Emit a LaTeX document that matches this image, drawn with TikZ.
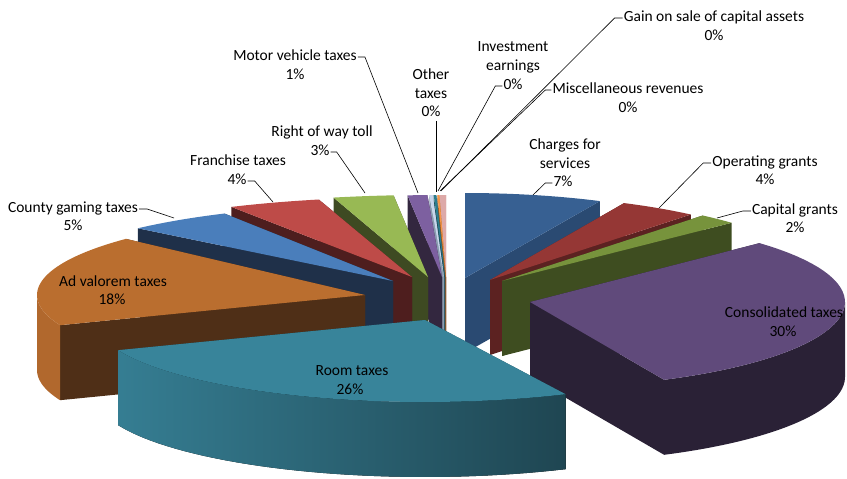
\documentclass[tikz,border=0pt]{standalone}
\usepackage{fontspec}
\setmainfont{Carlito}
\usepackage{tikz}

% slice colours
\definecolor{chgtop}{HTML}{376092}\definecolor{chgside}{HTML}{2A4A72}
\definecolor{optop}{HTML}{953735}\definecolor{opside}{HTML}{5C2221}
\definecolor{captop}{HTML}{77933C}\definecolor{capside}{HTML}{3E4D20}
\definecolor{contop}{HTML}{604A7B}\definecolor{conside}{HTML}{2A2136}
\definecolor{roomtop}{HTML}{38849A}\definecolor{roomside}{HTML}{1F4652}
\definecolor{advtop}{HTML}{BA6E2F}\definecolor{advside}{HTML}{4F2F17}
\definecolor{cnttop}{HTML}{4A7EBB}\definecolor{cntside}{HTML}{1F3049}
\definecolor{frtop}{HTML}{BE4B48}\definecolor{frside}{HTML}{4E1E1E}
\definecolor{rowtop}{HTML}{98B954}\definecolor{rowside}{HTML}{3E4A22}
\definecolor{mvtop}{HTML}{7D60A0}\definecolor{mvside}{HTML}{33273F}
\definecolor{othtop}{HTML}{C6D5EA}\definecolor{othside}{HTML}{8A9BB0}
\definecolor{invtop}{HTML}{2B7D8E}\definecolor{invside}{HTML}{1A4C57}
\definecolor{mistop}{HTML}{F79646}\definecolor{misside}{HTML}{9A5A24}
\definecolor{gaintop}{HTML}{DDA9A8}\definecolor{gainside}{HTML}{C49694}

\def\depth{75}
% outer wall of the current slice: from, to, style
\newcommand{\slicewall}[3]{%
  \fill[#3] plot[domain=#1:#2,samples=40] ({\slx+\slrx*cos(\x)},{\sly-\slry*sin(\x)})
    -- plot[domain=#2:#1,samples=40] ({\slx+\slrx*cos(\x)},{\sly+\depth-\slry*sin(\x)}) -- cycle;}
% apex x, apex y, rx, ry, from, to, top colour, cut colour, wall
\newcommand{\pieslice}[9]{%
  \def\slx{#1}\def\sly{#2}\def\slrx{#3}\def\slry{#4}%
  \fill[#8] (\slx,\sly) -- ({\slx+\slrx*cos(#5)},{\sly-\slry*sin(#5)}) -- ++(0,\depth) -- (\slx,\sly+\depth) -- cycle;
  \fill[#8] (\slx,\sly) -- ({\slx+\slrx*cos(#6)},{\sly-\slry*sin(#6)}) -- ++(0,\depth) -- (\slx,\sly+\depth) -- cycle;
  #9
  \fill[#7] (\slx,\sly) -- plot[domain=#5:#6,samples=40] ({\slx+\slrx*cos(\x)},{\sly-\slry*sin(\x)}) -- cycle;}

\tikzset{
  lbl/.style={font=\fontsize{15.5}{18.8}\selectfont, inner sep=1pt, align=center, text height=10.5pt, text depth=3pt},
  leader/.style={black, line width=0.6pt}
}

\begin{document}
\begin{tikzpicture}[x=1pt,y=-1pt]
\useasboundingbox (0,0) rectangle (847,479);

% slices, back to front
\pieslice{446}{277}{380}{82}{90}{91}{gaintop}{gainside}{}
\pieslice{446}{277}{380}{82}{91}{91.3}{mistop}{misside}{}
\pieslice{445}{277}{380}{82}{91.3}{91.7}{invtop}{invside}{}
\pieslice{444}{277}{380}{82}{91.7}{92.2}{othtop}{othside}{}
\pieslice{442}{277}{380}{82}{92.2}{95.2}{mvtop}{mvside}{}
\pieslice{428}{277}{380}{82}{95.2}{104.4}{rowtop}{rowside}{}
\pieslice{465}{278}{317}{85}{64.8}{90}{chgtop}{chgside}{}
\pieslice{412}{277}{375}{80}{104.4}{118.8}{frtop}{frside}{}
\pieslice{490}{280}{315}{85}{50.4}{64.8}{optop}{opside}{}
\pieslice{393}{281}{350}{77}{118.8}{136.8}{cnttop}{cntside}{}
\pieslice{502}{281}{315}{85}{43.2}{50.4}{captop}{capside}{}
\pieslice{365}{295}{328}{82}{136.8}{201.6}{advtop}{advside}{\slicewall{180}{201.6}{fill=advtop!95!black}}
\pieslice{530}{302}{315}{86}{-64.8}{43.2}{contop}{conside}{\slicewall{-64.8}{0}{fill=conside}}
\pieslice{425}{320}{330}{82}{-158.4}{-64.8}{roomtop}{roomside}{\slicewall{-158.4}{-64.8}{left color=roomtop!95!black, right color=roomside}}

% labels
\node[lbl] (gainname) at (714,18) {Gain on sale of capital assets};
\node[lbl] (gainpct) at (714,37) {0\%};
\node[lbl] (invname) at (513,67) {Investment\\earnings};
\node[lbl] (invpct) at (513,86) {0\%};
\node[lbl] (misname) at (628,90) {Miscellaneous revenues};
\node[lbl] (mispct) at (628,109) {0\%};
\node[lbl] (othname) at (431,95) {Other\\taxes};
\node[lbl] (othpct) at (431,113) {0\%};
\node[lbl] (mvname) at (295,57) {Motor vehicle taxes};
\node[lbl] (mvpct) at (295,76) {1\%};
\node[lbl] (rowname) at (322,133) {Right of way toll};
\node[lbl] (rowpct) at (320,152) {3\%};
\node[lbl] (frname) at (238,162) {Franchise taxes};
\node[lbl] (frpct) at (237,181) {4\%};
\node[lbl] (cntname) at (73,209) {County gaming taxes};
\node[lbl] (cntpct) at (73,227) {5\%};
\node[lbl] (chgname) at (565,165) {Charges for\\services};
\node[lbl] (chgpct) at (563,183) {7\%};
\node[lbl] (opname) at (765,163) {Operating grants};
\node[lbl] (oppct) at (765,181) {4\%};
\node[lbl] (capname) at (795,211) {Capital grants};
\node[lbl] (cappct) at (795,229) {2\%};
\node[lbl] (conname) at (784,314) {Consolidated taxes};
\node[lbl] (conpct) at (783,333) {30\%};
\node[lbl] (roomname) at (352,372) {Room taxes};
\node[lbl] (roompct) at (350,391) {26\%};
\node[lbl] (advname) at (113,283) {Ad valorem taxes};
\node[lbl] (advpct) at (112,301) {18\%};

% leader lines
\coordinate (gaintip) at (441,191);
\coordinate (invtip) at (438,191);
\coordinate (mistip) at (440,191);
\coordinate (othtip) at (436,192);
\coordinate (mvtip) at (418,193);
\coordinate (rowtip) at (365,193);
\coordinate (frtip) at (273,202);
\coordinate (cnttip) at (174,218);
\coordinate (chgtip) at (533,195);
\coordinate (optip) at (659,208);
\coordinate (captip) at (717,218);
\draw[leader] (gainname.west) -- ++(-8,0) -- (gaintip);
\draw[leader] (invpct.west) -- ++(-7,0) -- (invtip);
\draw[leader] (misname.west) -- ++(-6,0) -- (mistip);
\draw[leader] (othpct.south -| othtip) -- (othtip);
\draw[leader] (mvname.east) -- ++(7,0) -- (mvtip);
\draw[leader] (rowpct.east) -- ++(6,0) -- (rowtip);
\draw[leader] (frpct.east) -- ++(7,0) -- (frtip);
\draw[leader] (cntname.east) -- ++(8,0) -- (cnttip);
\draw[leader] (chgpct.west) -- ++(-7,0) -- (chgtip);
\draw[leader] (opname.west) -- ++(-8,0) -- (optip);
\draw[leader] (capname.west) -- ++(-8,0) -- (captip);
\end{tikzpicture}
\end{document}
